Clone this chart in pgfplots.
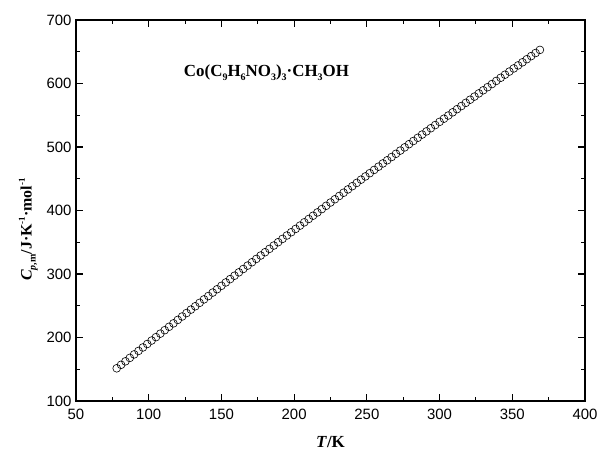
\documentclass[border=0pt]{standalone}
\usepackage{pgfplots}
\pgfplotsset{compat=1.18}
\usepackage{fontspec}
\setmainfont{Liberation Serif}
\newfontfamily\arial{Liberation Sans}
\newcommand\sub[1]{\raisebox{-0.55ex}{\fontsize{10}{10}\selectfont #1}}
\newcommand\sps[1]{\raisebox{0.9ex}{\fontsize{9}{9}\selectfont #1}}

\begin{document}
\begin{tikzpicture}
\path[use as bounding box] (-76bp,-49bp) rectangle (522bp,401bp);
\begin{axis}[
    scale only axis,
    width=509bp, height=381bp,
    xmin=50, xmax=400,
    ymin=100, ymax=700,
    xtick={50,100,...,400},
    ytick={100,200,...,700},
    minor x tick num=1,
    minor y tick num=1,
    tick align=inside,
    major tick length=7bp,
    minor tick length=4bp,
    axis line style={line width=1.3bp},
    every tick/.style={line width=1.1bp, black},
    /pgf/number format/assume math mode=true,
    ticklabel style={font=\arial\fontsize{15}{18}\selectfont},
    xticklabel style={yshift=-5bp},
    yticklabel style={xshift=-1bp},
    xlabel={\textbf{\textit{T}/K}},
    xlabel style={yshift=-9bp, font=\fontsize{17}{20}\selectfont},
    ylabel={\textbf{\textit{C}\sub{\textit{p},m}/J·K\sps{-1}·mol\sps{-1}}},
    ylabel style={at={(ticklabel cs:0.45)}, yshift=2bp, font=\fontsize{16}{19}\selectfont},
  ]
  \addplot[
    only marks,
    mark=o,
    mark size=3.9bp,
    mark options={line width=0.6bp, black, fill=white},
  ]
  coordinates {
    (78,151.5)(81,157.0)(84,162.5)(87,167.9)(90,173.4)(93,178.9)(96,184.3)(99,189.8)
    (102,195.2)(105,200.6)(108,206.1)(111,211.5)(114,216.9)(117,222.3)(120,227.7)(123,233.1)
    (126,238.5)(129,243.9)(132,249.2)(135,254.6)(138,260.0)(141,265.3)(144,270.7)(147,276.0)
    (150,281.4)(153,286.7)(156,292.0)(159,297.3)(162,302.6)(165,307.9)(168,313.2)(171,318.5)
    (174,323.8)(177,329.1)(180,334.3)(183,339.6)(186,344.8)(189,350.1)(192,355.3)(195,360.6)
    (198,365.8)(201,371.0)(204,376.2)(207,381.4)(210,386.6)(213,391.8)(216,397.0)(219,402.2)
    (222,407.4)(225,412.6)(228,417.7)(231,422.9)(234,428.0)(237,433.2)(240,438.3)(243,443.4)
    (246,448.6)(249,453.7)(252,458.8)(255,463.9)(258,469.0)(261,474.1)(264,479.1)(267,484.2)
    (270,489.3)(273,494.4)(276,499.4)(279,504.5)(282,509.5)(285,514.5)(288,519.6)(291,524.6)
    (294,529.6)(297,534.6)(300,539.6)(303,544.6)(306,549.6)(309,554.6)(312,559.6)(315,564.5)
    (318,569.5)(321,574.5)(324,579.4)(327,584.4)(330,589.3)(333,594.2)(336,599.1)(339,604.1)
    (342,609.0)(345,613.9)(348,618.8)(351,623.7)(354,628.5)(357,633.4)(360,638.3)(363,643.2)
    (366,648.0)(369,652.9)
  };
  \node[font=\bfseries\fontsize{17}{20}\selectfont] at (axis cs:181,617)
    {Co(C\sub{9}H\sub{6}NO\sub{3})\sub{3}·CH\sub{3}OH};
\end{axis}
\end{tikzpicture}
\end{document}
